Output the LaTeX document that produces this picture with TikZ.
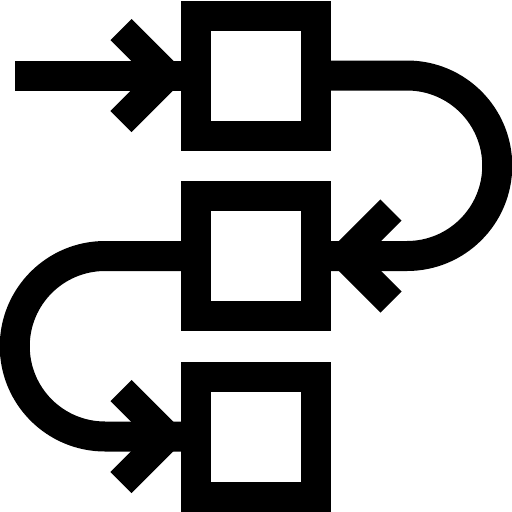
\documentclass[tikz,border=0pt]{standalone}
\begin{document}
\begin{tikzpicture}[x=1pt,y=1pt,
  boxnode/.style={draw=black,line width=30pt,inner sep=0pt,outer sep=15pt,minimum width=120pt,minimum height=120pt},
  wire/.style={draw=black,line width=30pt,line cap=butt,line join=miter}]
\useasboundingbox (0,0) rectangle (512,-512);
\node[boxnode] (s1) at (256,-75.5) {};
\node[boxnode] (s2) at (256,-256) {};
\node[boxnode] (s3) at (256,-436.5) {};
\coordinate (in) at (15,-75.5);
% input arrow
\draw[wire] (in) -- (s1.west);
\draw[wire] ([shift={(-60,46)}]s1.west) -- ([shift={(-14,0)}]s1.west) -- ([shift={(-60,-46)}]s1.west);
% top to middle
\draw[wire] (s1.east) -- ++(76,0) arc[start angle=90,end angle=-90,radius=90.25] -- (s2.east);
\draw[wire] ([shift={(60,46)}]s2.east) -- ([shift={(14,0)}]s2.east) -- ([shift={(60,-46)}]s2.east);
% middle to bottom
\draw[wire] (s2.west) -- ++(-76,0) arc[start angle=90,end angle=270,radius=90.25] -- (s3.west);
\draw[wire] ([shift={(-60,46)}]s3.west) -- ([shift={(-14,0)}]s3.west) -- ([shift={(-60,-46)}]s3.west);
\end{tikzpicture}
\end{document}
